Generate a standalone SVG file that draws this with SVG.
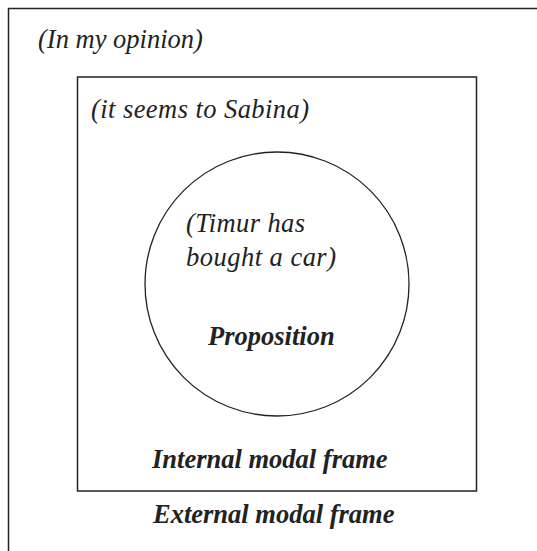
<svg xmlns="http://www.w3.org/2000/svg" width="537" height="551" viewBox="0 0 537 551">
<style>
.frame{fill:none;stroke:#222;stroke-width:1.5}
.t{font-family:"Liberation Serif","Times New Roman",serif;font-style:italic;font-size:26.5px;fill:#222}
.b{font-weight:bold}
</style>
<rect width="537" height="551" fill="#fff"/>
<g id="external-frame">
<path class="frame" d="M8.5,551 V8.5 H537"/>
<text class="t" x="38" y="48">(In my opinion)</text>
<text class="t b" x="153" y="523">External modal frame</text>
</g>
<g id="internal-frame">
<rect class="frame" x="77.5" y="77" width="399" height="414"/>
<text class="t" x="91" y="118" textLength="218">(it seems to Sabina)</text>
<text class="t b" x="152" y="468">Internal modal frame</text>
</g>
<g id="proposition">
<circle cx="277" cy="284" r="132" fill="none" stroke="#222" stroke-width="1.3"/>
<text class="t" x="186" y="232" textLength="119">(Timur has</text>
<text class="t" x="186" y="266" textLength="150">bought a car)</text>
<text class="t b" x="208" y="345">Proposition</text>
</g>
<g id="connectors"/>
</svg>
